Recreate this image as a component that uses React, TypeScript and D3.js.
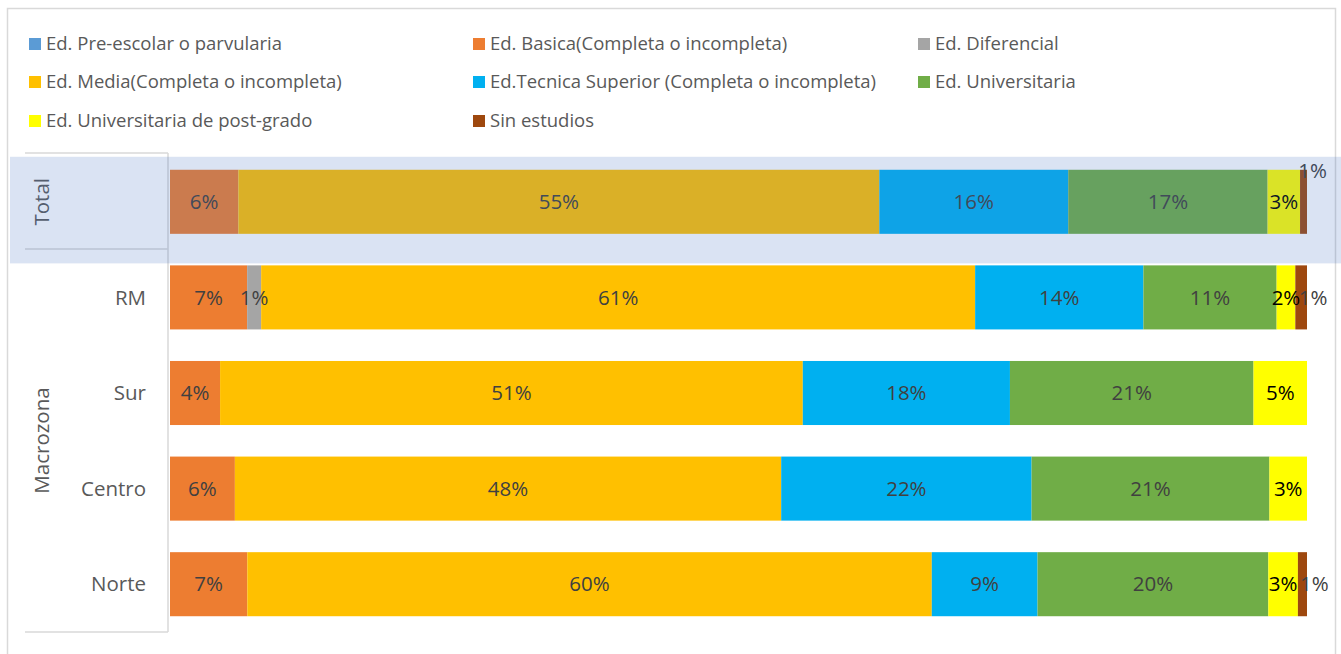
import React from "react";
import * as d3 from "d3";

const categories = ["Total", "RM", "Sur", "Centro", "Norte"];
const seriesNames = [
  "Ed. Pre-escolar o parvularia",
  "Ed. Basica(Completa o incompleta)",
  "Ed. Diferencial",
  "Ed. Media(Completa o incompleta)",
  "Ed.Tecnica Superior (Completa o incompleta)",
  "Ed. Universitaria",
  "Ed. Universitaria de post-grado",
  "Sin estudios",
];
const seriesColors = ["#5B9BD5", "#ED7D31", "#A5A5A5", "#FFC000", "#00B0F0", "#70AD47", "#FFFF00", "#9E480E"];

const preescolar = [0, 0, 0, 0, 0];
const basica = [5.9, 6.6, 4.4, 5.7, 6.8];
const diferencial = [0, 1.2, 0, 0, 0];
const media = [55.3, 61.1, 51.2, 48.0, 60.2];
const tecnica = [16.3, 14.4, 18.2, 22.0, 9.3];
const universitaria = [17.2, 11.4, 21.4, 20.9, 20.3];
const postgrado = [2.8, 1.6, 4.7, 3.3, 2.6];
const sinEstudios = [0.6, 1.0, 0, 0, 0.8];

const seriesValues = [preescolar, basica, diferencial, media, tecnica, universitaria, postgrado, sinEstudios];

const FONT = "'Open Sans', sans-serif";
const FS_LEGEND = 18.5;
const FS = 20.5;

export default function App() {
  const W = 1341, H = 654;
  const rows = categories.map((c, i) => {
    const o: any = { cat: c };
    seriesNames.forEach((s, j) => (o[s] = seriesValues[j][i]));
    return o;
  });
  const stack = d3.stack<any>().keys(seriesNames).offset(d3.stackOffsetExpand);
  const layers = stack(rows);

  const x = d3.scaleLinear().domain([0, 1]).range([170, 1307]);
  const y = d3.scaleBand<string>().domain(categories).range([154, 632]).paddingInner(0.33).paddingOuter(0.165);
  const bw = y.bandwidth();

  const legendCols = [29, 473, 918];
  const legendRows = [44, 82, 121];

  const bandTop = (y("Total") as number) - 13;
  const bandBottom = (y("RM") as number) - 2;

  const renderRow = (cat: string, ci: number) =>
    layers.map((layer, li) => {
      const d = layer[ci];
      const v = seriesValues[li][ci];
      if (!v) return null;
      const x0 = x(d[0]), x1 = x(d[1]);
      const yy = y(cat) as number;
      return <rect key={cat + li} x={x0} y={yy} width={Math.max(0, x1 - x0)} height={bw} fill={seriesColors[li]} />;
    });

  const renderLabels = (cat: string, ci: number) =>
    layers.map((layer, li) => {
      const d = layer[ci];
      const v = seriesValues[li][ci];
      if (!v) return null;
      const x0 = x(d[0]), x1 = x(d[1]);
      const yy = y(cat) as number;
      const isSin = li === 7;
      let lx = (x0 + x1) / 2 + (isSin ? 12 : 0);
      let ly = yy + bw / 2;
      if (isSin && cat === "Total") {
        lx = (x0 + x1) / 2 + 9;
        ly = yy + 1;
      }
      return (
        <text key={"l" + cat + li} x={lx} y={ly} dy="0.35em" textAnchor="middle"
          fontFamily={FONT} fontSize={FS} fill={li === 6 ? "#000000" : "#404040"}>
          {Math.round(v) + "%"}
        </text>
      );
    });

  const axisColor = "#d9d9d9";
  const macroBottom = 632;

  return (
    <svg width={W} height={H} style={{ position: "fixed", left: 0, top: 0, background: "#fff" }}>
      <rect x={7.5} y={8.5} width={1328} height={700} fill="#fff" stroke={axisColor} strokeWidth={1.5} />
      {seriesNames.map((s, i) => {
        const cx = legendCols[i % 3];
        const cy = legendRows[Math.floor(i / 3)];
        return (
          <g key={s}>
            <rect x={cx} y={cy - 6} width={12} height={12} fill={seriesColors[i]} />
            <text x={cx + 17} y={cy} dy="0.35em" fontFamily={FONT} fontSize={FS_LEGEND} fill="#595959">{s}</text>
          </g>
        );
      })}
      <line x1={168} x2={168} y1={153} y2={macroBottom} stroke={axisColor} strokeWidth={1.5} />
      <line x1={25} x2={168} y1={153} y2={153} stroke={axisColor} strokeWidth={1.5} />
      <line x1={25} x2={168} y1={249} y2={249} stroke={axisColor} strokeWidth={1.5} />
      <line x1={25} x2={168} y1={macroBottom} y2={macroBottom} stroke={axisColor} strokeWidth={1.5} />
      {categories.slice(1).map((c) => (
        <text key={c} x={146} y={(y(c) as number) + bw / 2} dy="0.35em" textAnchor="end"
          fontFamily={FONT} fontSize={FS} fill="#595959">{c}</text>
      ))}
      <text transform={`translate(42,${(y("Total") as number) + bw / 2}) rotate(-90)`} dy="0.35em" textAnchor="middle"
        fontFamily={FONT} fontSize={FS} fill="#595959">Total</text>
      <text transform={`translate(42,${(249 + macroBottom) / 2}) rotate(-90)`} dy="0.35em" textAnchor="middle"
        fontFamily={FONT} fontSize={FS} fill="#595959">Macrozona</text>
      {categories.map((c, ci) => renderRow(c, ci))}
      {categories.map((c, ci) => renderLabels(c, ci))}
      <rect x={10} y={bandTop} width={W - 10} height={bandBottom - bandTop} fill="rgb(68,114,196)" fillOpacity={0.2} />
    </svg>
  );
}
